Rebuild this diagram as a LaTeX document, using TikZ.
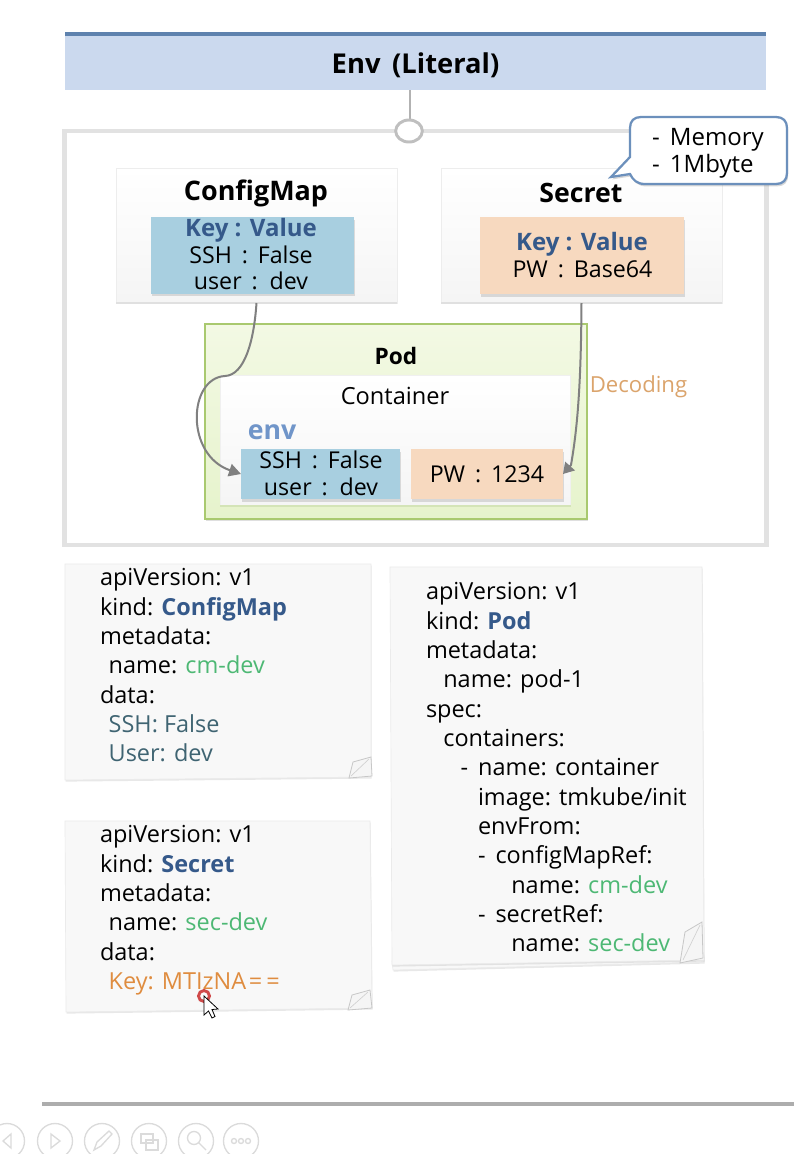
\documentclass[tikz,border=0pt]{standalone}
\usepackage{fontspec}
\setmainfont{Open Sans}
\usetikzlibrary{shadows,arrows.meta,shapes.geometric}
\definecolor{hdrfill}{HTML}{CBD9EE}
\definecolor{hdrtop}{HTML}{5E82AE}
\definecolor{frameg}{HTML}{E2E2E2}
\definecolor{cblue}{HTML}{A8CFE0}
\definecolor{corange}{HTML}{F7D9BF}
\definecolor{kblue}{HTML}{35598A}
\definecolor{kgreen}{HTML}{4DB874}
\definecolor{korange}{HTML}{DF8C3F}
\definecolor{kteal}{HTML}{3F6472}
\definecolor{kenv}{HTML}{7095C9}
\definecolor{kdec}{HTML}{DBA46C}
\definecolor{podtop}{HTML}{F3F9E4}
\definecolor{podbot}{HTML}{E6F3CC}
\definecolor{podline}{HTML}{A9C96F}
\definecolor{notefill}{HTML}{F8F8F8}
\definecolor{conn}{HTML}{808080}
\definecolor{call}{HTML}{6C90BC}
\newcommand{\fs}[1]{\fontsize{#1}{#1}\selectfont}
\newcommand{\fsb}[2]{\fontsize{#1}{#2}\selectfont}
\newcommand{\ind}[1]{\hspace*{#1pt}}
\newcommand{\cln}{\,:\,}
\tikzset{
  x=0.75pt,y=-0.75pt,
  every node/.style={outer sep=0pt},
  softshadow/.style={drop shadow={shadow xshift=.9pt,shadow yshift=-2pt,opacity=.25}},
  card/.style={minimum width=210.75pt,minimum height=101.25pt,anchor=north west,inner sep=0pt,top color=white,bottom color=black!4,draw=black!7,line width=.6pt},
  kv/.style={anchor=north west,inner sep=0pt,softshadow},
  label/.style={font=\fs{17.4},inner sep=0pt},
  keylabel/.style={font=\fs{18}\bfseries,text=kblue,inner sep=0pt},
  notetext/.style={anchor=north west,inner sep=0pt,align=left,font=\fsb{17.6}{22}},
  note/.style={fill=notefill,draw=black!8,line width=.5pt,drop shadow={shadow xshift=.5pt,shadow yshift=-1.2pt,opacity=.18}},
  curl/.style={fill=black!4,draw=black!22,line width=.6pt},
  flow/.style={draw=conn,line width=1.5pt},
  tool/.style={draw=black!14,line width=1pt,fill=none},
}
\begin{document}
\begin{tikzpicture}
\useasboundingbox (0,0) rectangle (794,1154);
\fill[white] (0,0) rectangle (794,1154);
% header
\node[anchor=north west,inner sep=0pt,minimum width=526pt,minimum height=42pt,fill=hdrfill] (hdr) at (65,34) {};
\draw[hdrtop,line width=2.8pt] (hdr.north west) -- (hdr.north east);
\node[font=\fs{20.5}\bfseries,inner sep=0pt] (hdrt) at (415.5,65) {Env\, (Literal)};
% outer frame
\node[anchor=north west,inner sep=0pt,minimum width=526.5pt,minimum height=310.5pt,draw=frameg,line width=3.2pt] (frame) at (64.5,131) {};
\draw[black!30,line width=.8pt] (hdr.south -| 410,0) -- (410,120);
\node[ellipse,draw=black!25,line width=2.2pt,fill=white,minimum width=20pt,minimum height=16.5pt,inner sep=0pt] (hole) at (409,131) {};
% ConfigMap / Secret
\node[card] (cm) at (116,168) {};
\node[card] (sec) at (441,168) {};
\draw[black!12,line width=1.6pt] (cm.south west) -- (cm.south east);
\draw[black!12,line width=1.6pt] (sec.south west) -- (sec.south east);
\node[font=\fs{20.2}\bfseries,inner sep=0pt] (cmt) at (256,193) {ConfigMap};
\node[font=\fs{20}\bfseries,inner sep=0pt] (sect) at (581,193) {Secret};
\node[kv,fill=cblue,minimum width=152pt,minimum height=57.5pt] (cmbox) at (151,217) {};
\node[kv,fill=corange,minimum width=153pt,minimum height=58pt] (secbox) at (480,217) {};
\node[keylabel] (k1) at (251,230) {Key : Value};
\node[label] (k2) at (251,255) {SSH \cln{} False};
\node[label] (k3) at (251,281) {user \cln{} dev};
\node[keylabel] (k4) at (582,244) {Key : Value};
\node[label] (k5) at (582.5,269) {PW \cln{} Base64};
% callout
\draw[call,line width=1.7pt,fill=white,drop shadow={shadow xshift=.9pt,shadow yshift=-1.8pt,opacity=.3}]
  (641,117) -- (776,117) .. controls (783,117) and (787,121) .. (787,128) -- (787,173) .. controls (787,180) and (783,184) .. (776,184)
  -- (645,184) .. controls (637,184) and (633,180) .. (630,174) -- (611,177) -- (630,157) -- (630,128) .. controls (630,121) and (634,117) .. (641,117) -- cycle;
\node[anchor=north west,inner sep=0pt,align=left,font=\fsb{18}{20}] (mem) at (652,128.5) {-\, Memory\\-\, 1Mbyte};
% Pod
\node[anchor=north west,inner sep=0pt,minimum width=286.5pt,minimum height=146pt,top color=podtop,bottom color=podbot,draw=podline,line width=1.6pt,softshadow] (pod) at (205,324) {};
\node[anchor=north west,inner sep=0pt,minimum width=263pt,minimum height=98pt,top color=white,bottom color=black!4,draw=black!6,line width=.5pt] (cont) at (220,375) {};
\draw[podline!50,line width=1.4pt] (cont.south west) -- (cont.south east);
\node[font=\fs{17}\bfseries,inner sep=0pt] (podt) at (396,356) {Pod};
\node[font=\fs{17.7},inner sep=0pt] (contt) at (395,396) {Container};
\node[font=\fs{20}\bfseries,text=kenv,inner sep=0pt] (envt) at (272,432) {env};
\node[kv,fill=cblue,minimum width=119pt,minimum height=37.5pt] (ssh) at (241,449) {};
\node[kv,fill=corange,minimum width=114pt,minimum height=37.5pt] (pw) at (411,449) {};
\node[label] (s1) at (321,460) {SSH \cln{} False};
\node[label] (s2) at (321,487) {user \cln{} dev};
\node[label] (p1) at (487,474.5) {PW \cln{} 1234};
\node[font=\fs{16.6},text=kdec,inner sep=0pt] (dec) at (638.5,386.5) {Decoding};
% connectors
\draw[flow,-{Triangle[length=9pt,width=9.5pt]}] (cm.south) .. controls (254,340) and (245,375) .. (225,376) .. controls (188,378) and (185,455) .. (ssh.west);
\draw[flow,-{Triangle[length=8pt,width=9.5pt]}] (sec.south) .. controls (581,380) and (578,425) .. (571,465) -- (pw.east);
% notes
\path[note] (65,564) -- (371,564) -- (371,777) -- (65,780) -- cycle;
\path[note] (65,821) -- (370,821) -- (372,1008) -- (66,1012) -- cycle;
\path[note] (392,961) -- (704,955) -- (704,962) -- (393,970) -- cycle;
\path[note] (390,567) -- (702,567) -- (704,960) -- (392,965) -- cycle;
\path[curl] (349,778) -- (353,762) -- (371,757) -- (372,776) -- cycle;
\draw[black!18,line width=.5pt] (351,776) -- (369,759);
\path[curl] (348,1010) -- (352,995) -- (370,990) -- (372,1008) -- cycle;
\draw[black!18,line width=.5pt] (350,1008) -- (368,992);
\path[curl] (680,963) -- (685,932) -- (702,922) -- (703,958) -- cycle;
\draw[black!18,line width=.5pt] (683,960) -- (700,925);
\node[notetext] (n1) at (100,568.5) {apiVersion: v1\\kind: \textcolor{kblue}{\bfseries ConfigMap}\\metadata:\\\ind{6.5}name: \textcolor{kgreen}{cm-dev}\\data:\\\ind{6.5}\textcolor{kteal}{SSH: False}\\\ind{6.5}\textcolor{kteal}{User: dev}};
\node[notetext] (n2) at (100,825.5) {apiVersion: v1\\kind: \textcolor{kblue}{\bfseries Secret}\\metadata:\\\ind{6.5}name: \textcolor{kgreen}{sec-dev}\\data:\\\ind{6.5}\textcolor{korange}{Key: MTIzNA\kern2pt=\kern3pt=}};
\node[notetext] (n3) at (426,582.5) {apiVersion: v1\\kind: \textcolor{kblue}{\bfseries Pod}\\metadata:\\\ind{13}name: pod-1\\spec:\\\ind{13}containers:\\\ind{26}-\, name: container\\\ind{39}image: tmkube/init\\\ind{39}envFrom:\\\ind{39}-\, configMapRef:\\\ind{64}name: \textcolor{kgreen}{cm-dev}\\\ind{39}-\, secretRef:\\\ind{64}name: \textcolor{kgreen}{sec-dev}};
% cursor
\draw[red!75!black,opacity=.7,line width=2.2pt,fill=white] (204,996) circle (5.5);
\path[fill=white,draw=black,line width=.6pt] (204,996) -- (204,1015) -- (208.5,1011) -- (212,1018) -- (215,1016.5) -- (212,1009.5) -- (218,1009) -- cycle;
% bottom bar
\draw[black!32,line width=2.6pt] (42,1104) -- (794,1104);
\foreach \cx in {7,55,102,149,196,241} \draw[tool] (\cx,1141) circle (17.5);
\draw[tool] (11,1134) -- (3,1141) -- (11,1148) -- cycle;
\draw[tool] (51,1134) -- (60,1141) -- (51,1148) -- cycle;
\draw[tool] (94,1150) -- (97,1142) -- (109,1131) -- (112,1134) -- (101,1146) -- cycle;
\draw[tool] (141,1134) rectangle (153,1143) (146,1140) rectangle (158,1150);
\draw[tool] (194,1138) circle (6.5) (199,1143) -- (206,1150);
\draw[tool] (234,1141) circle (2.5) (241,1141) circle (2.5) (248,1141) circle (2.5);
\end{tikzpicture}
\end{document}
